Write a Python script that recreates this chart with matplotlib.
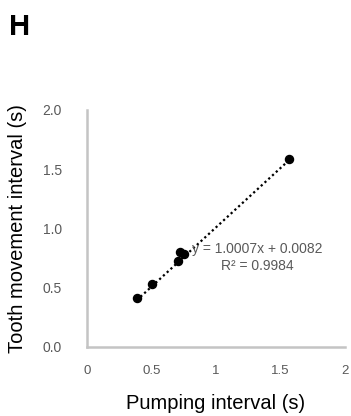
import matplotlib
matplotlib.use("Agg")
import matplotlib.pyplot as plt
import numpy as np

plt.rcParams['font.family'] = ['Liberation Sans', 'DejaVu Sans']

# Pumping vs tooth movement intervals (s)
pumping_interval = [0.385, 0.506, 0.703, 0.720, 0.754, 1.568]
tooth_interval = [0.414, 0.530, 0.725, 0.800, 0.786, 1.586]

slope = 1.0007
intercept = 0.0082
r_squared = 0.9984

x_ticks = [0, 0.5, 1, 1.5, 2]
x_tick_labels = ["0", "0.5", "1", "1.5", "2"]
y_ticks = [0.0, 0.5, 1.0, 1.5, 2.0]
y_tick_labels = ["0.0", "0.5", "1.0", "1.5", "2.0"]

fig = plt.figure(figsize=(3.51, 4.16), dpi=100)
ax = fig.add_axes([0.248, 0.166, 0.735, 0.570])

# Linear trendline across the data range
xs = np.array([min(pumping_interval), max(pumping_interval)])
ax.plot(xs, slope * xs + intercept, linestyle=(0, (1, 1.3)), color='black',
        linewidth=1.6, zorder=2)
ax.plot(pumping_interval, tooth_interval, 'o', color='black', markersize=5.8,
        zorder=3)

ax.text(1.318, 0.83, f"y = {slope:.4f}x + {intercept:.4f}", ha='center',
        va='center', fontsize=10, color='#595959')
ax.text(1.318, 0.683, f"R² = {r_squared:.4f}", ha='center', va='center',
        fontsize=10, color='#595959')

ax.set_xlim(0, 2)
ax.set_ylim(0, 2.0)
ax.set_xticks(x_ticks)
ax.set_xticklabels(x_tick_labels)
ax.set_yticks(y_ticks)
ax.set_yticklabels(y_tick_labels)
ax.tick_params(axis='both', length=0, labelcolor='#595959')
ax.tick_params(axis='x', pad=13, labelsize=9.5)
ax.tick_params(axis='y', pad=18, labelsize=10)

for side in ('top', 'right'):
    ax.spines[side].set_visible(False)
for side in ('left', 'bottom'):
    ax.spines[side].set_color('#c4c4c4')
    ax.spines[side].set_linewidth(1.8)

ax.set_xlabel("Pumping interval (s)", fontsize=14.5, labelpad=12)
ax.set_ylabel("Tooth movement interval (s)", fontsize=14.5, labelpad=11)

fig.text(0.026, 0.936, "H", fontsize=21, fontweight='bold', ha='left',
         va='center')

fig.savefig("out.png", dpi=100)
